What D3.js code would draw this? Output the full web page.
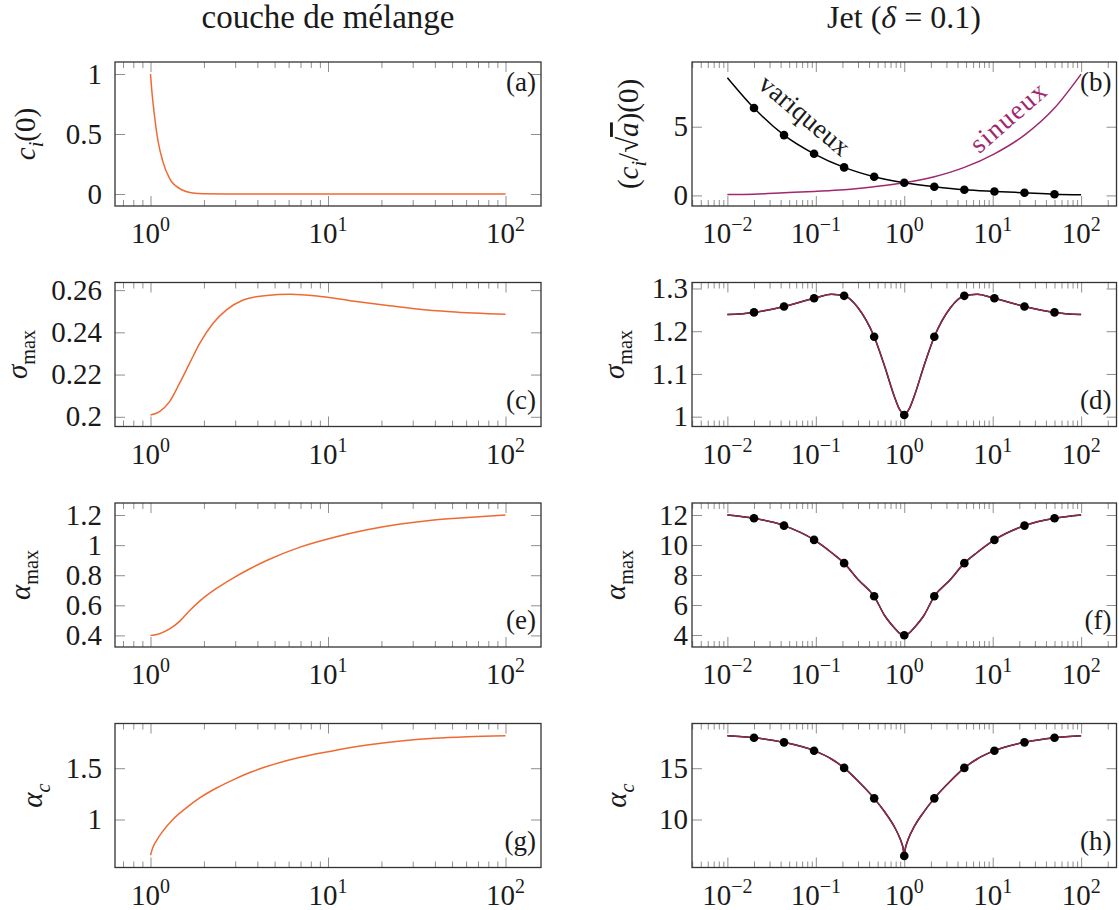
<!DOCTYPE html>
<html><head><meta charset="utf-8">
<script src="https://cdn.jsdelivr.net/npm/d3@7"></script>
<style>
body{margin:0;background:#fff}
text{font-family:"Liberation Serif","Times New Roman",serif;fill:#1a1a1a}
</style>
</head><body><svg id="c" width="1119" height="910"></svg>
<script>
// ---------- DATA ----------
// left column: couche de mélange (x from 1 to 100)
const aMixA = [1, 1.02, 1.044, 1.10, 1.174, 1.28, 1.46, 1.73, 2.0, 3.0, 10, 30, 100];
const ciMix = [1.0, 0.84, 0.70, 0.45, 0.27, 0.13, 0.045, 0.009, 0.002, 0, 0, 0, 0];

const aMixC = [1, 1.124, 1.281, 1.459, 1.662, 1.893, 2.253, 2.68, 3.33, 4.51, 6.11, 8.65, 13.35, 20.6, 31.8, 49.1, 100];
const sigmaMix = [0.2008, 0.2025, 0.2072, 0.2159, 0.2254, 0.2348, 0.2443, 0.2506, 0.2553, 0.2575, 0.2580, 0.2572, 0.2550, 0.2530, 0.2511, 0.2498, 0.2486];

const aMixE = [1, 1.124, 1.281, 1.459, 1.662, 1.893, 2.353, 2.92, 3.63, 4.51, 6.96, 10.74, 16.6, 25.6, 39.5, 61.0, 100];
const alphaMaxMix = [0.400, 0.411, 0.443, 0.493, 0.565, 0.628, 0.712, 0.781, 0.843, 0.898, 0.987, 1.051, 1.102, 1.140, 1.167, 1.184, 1.200];

const aMixG = [1, 1.031, 1.077, 1.174, 1.337, 1.591, 1.893, 2.353, 2.92, 3.63, 4.51, 6.96, 10.74, 16.6, 25.6, 39.5, 61.0, 100];
const alphaCMix = [0.652, 0.726, 0.790, 0.887, 1.000, 1.113, 1.210, 1.307, 1.387, 1.458, 1.516, 1.607, 1.671, 1.726, 1.765, 1.791, 1.806, 1.816];

// right column: Jet (delta = 0.1)
const aJetB = [0.01, 0.02, 0.0437, 0.0956, 0.209, 0.457, 1, 2.187, 4.78, 10.46, 22.87, 50, 100];
const variqueuxB = [8.57, 6.36, 4.39, 3.03, 2.04, 1.36, 0.92, 0.63, 0.41, 0.29, 0.19, 0.09, 0.05];
const sinueuxB = [0.07, 0.09, 0.19, 0.29, 0.41, 0.63, 0.92, 1.36, 2.04, 3.03, 4.39, 6.36, 8.83];

const aJet = [0.01, 0.02, 0.0437, 0.0956, 0.15, 0.209, 0.3, 0.457, 0.6, 0.78, 0.88, 1, 1.136, 1.282, 1.667, 2.187, 3.33, 4.78, 6.67, 10.46, 22.87, 50, 100];
const sigmaJet = [1.239, 1.244, 1.258, 1.277, 1.2867, 1.2828, 1.255, 1.187, 1.118, 1.045, 1.018, 1.005, 1.018, 1.045, 1.118, 1.187, 1.255, 1.2828, 1.2867, 1.277, 1.258, 1.244, 1.239];
const alphaMaxJet = [12.0, 11.78, 11.29, 10.34, 9.5, 8.79, 7.7, 6.58, 5.3, 4.45, 4.12, 3.98, 4.12, 4.45, 5.3, 6.58, 7.7, 8.79, 9.5, 10.34, 11.29, 11.78, 12.0];

const aJetH = [0.01, 0.02, 0.0437, 0.0956, 0.15, 0.209, 0.3, 0.457, 0.6, 0.77, 0.9, 0.94, 0.97, 1, 1.031, 1.064, 1.111, 1.299, 1.667, 2.187, 3.33, 4.78, 6.67, 10.46, 22.87, 50, 100];
const alphaCJet = [18.16, 17.97, 17.52, 16.71, 15.9, 15.03, 13.75, 12.06, 10.75, 9.32, 8.1, 7.64, 7.22, 6.5, 7.22, 7.64, 8.1, 9.32, 10.75, 12.06, 13.75, 15.03, 15.9, 16.71, 17.52, 17.97, 18.16];

// markers (variqueux computed points)
const aMarks = [0.02, 0.0437, 0.0956, 0.209, 0.457, 1, 2.187, 4.78, 10.46, 22.87, 50];
const marksB = [6.36, 4.39, 3.03, 2.04, 1.36, 0.92, 0.63, 0.41, 0.29, 0.19, 0.09];
const marksD = [1.244, 1.258, 1.277, 1.2828, 1.187, 1.004, 1.187, 1.2828, 1.277, 1.258, 1.244];
const marksF = [11.78, 11.29, 10.34, 8.79, 6.58, 3.98, 6.58, 8.79, 10.34, 11.29, 11.78];
const marksH = [17.97, 17.52, 16.71, 15.03, 12.06, 6.45, 12.06, 15.03, 16.71, 17.52, 17.97];

// tick labels
const xTicksMix = [1, 10, 100];
const xExpMix = ["0", "1", "2"];
const xTicksJet = [0.01, 0.1, 1, 10, 100];
const xExpJet = ["\u22122", "\u22121", "0", "1", "2"];
const yTicksA = [0, 0.5, 1], yLabA = ["0", "0.5", "1"];
const yTicksB = [0, 5], yLabB = ["0", "5"];
const yTicksC = [0.2, 0.22, 0.24, 0.26], yLabC = ["0.2", "0.22", "0.24", "0.26"];
const yTicksD = [1, 1.1, 1.2, 1.3], yLabD = ["1", "1.1", "1.2", "1.3"];
const yTicksE = [0.4, 0.6, 0.8, 1, 1.2], yLabE = ["0.4", "0.6", "0.8", "1", "1.2"];
const yTicksF = [4, 6, 8, 10, 12], yLabF = ["4", "6", "8", "10", "12"];
const yTicksG = [1, 1.5], yLabG = ["1", "1.5"];
const yTicksH = [10, 15], yLabH = ["10", "15"];

// ---------- LAYOUT ----------
const svg = d3.select("#c");
const ORANGE = "#EF6A32", PURPLE = "#A0286E", OVER = "#8F2A50";
const PH = 144;
const rowTop = [62, 282.5, 503, 723.5];
const xL = d3.scaleLog().domain([Math.pow(10, -0.2), Math.pow(10, 2.2)]).range([115, 541]);
const xR = d3.scaleLog().domain([Math.pow(10, -2.4), Math.pow(10, 2.4)]).range([692, 1116.5]);
const isPow10 = v => Math.abs(Math.log10(v) - Math.round(Math.log10(v))) < 1e-9;

function styleAxis(sel) {
  sel.select(".domain").remove();
  sel.selectAll(".tick line").attr("stroke", "#8f8f8f").attr("stroke-width", 1);
  sel.selectAll(".tick text").remove();
}

function richText(sel, parts, base) {
  parts.forEach(p => {
    const t = sel.append("tspan").text(p.t);
    if (p.it) t.attr("font-style", "italic");
    if (p.sub) t.attr("font-size", base * 0.7).attr("dy", base * 0.28);
    if (p.reset) t.attr("dy", -base * 0.28);
    if (p.over) t.style("text-decoration", "overline");
  });
}

function panel(p) {
  const x = p.col === 0 ? xL : xR;
  const top = rowTop[p.row], bot = top + PH;
  const [x0, x1] = x.range();
  const y = d3.scaleLinear().domain(p.yDomain).range([bot, top]);
  const g = svg.append("g");
  const all = x.ticks();
  const major = all.filter(isPow10), minor = all.filter(v => !isPow10(v));

  g.append("g").attr("transform", `translate(0,${bot})`).call(d3.axisBottom(x).tickValues(major).tickSize(-10).tickFormat("")).call(styleAxis);
  g.append("g").attr("transform", `translate(0,${bot})`).call(d3.axisBottom(x).tickValues(minor).tickSize(-6).tickFormat("")).call(styleAxis);
  g.append("g").attr("transform", `translate(0,${top})`).call(d3.axisTop(x).tickValues(major).tickSize(-10).tickFormat("")).call(styleAxis);
  g.append("g").attr("transform", `translate(0,${top})`).call(d3.axisTop(x).tickValues(minor).tickSize(-6).tickFormat("")).call(styleAxis);
  g.append("g").attr("transform", `translate(${x0},0)`).call(d3.axisLeft(y).tickValues(p.yTicks).tickSize(-10).tickFormat("")).call(styleAxis);
  g.append("g").attr("transform", `translate(${x1},0)`).call(d3.axisRight(y).tickValues(p.yTicks).tickSize(-10).tickFormat("")).call(styleAxis);

  g.append("rect").attr("x", x0).attr("y", top).attr("width", x1 - x0).attr("height", PH)
    .attr("fill", "none").attr("stroke", "#333").attr("stroke-width", 1.3);

  // x tick labels
  const xt = p.col === 0 ? xTicksMix : xTicksJet, xe = p.col === 0 ? xExpMix : xExpJet;
  xt.forEach((v, i) => {
    const t = g.append("text").attr("x", x(v)).attr("y", bot + 37).attr("text-anchor", "middle").attr("font-size", 29);
    t.append("tspan").text("10");
    t.append("tspan").text(xe[i]).attr("font-size", 20).attr("dy", -12);
  });
  // y tick labels
  const yEnd = p.col === 0 ? 102 : 688;
  p.yTicks.forEach((v, i) => {
    g.append("text").attr("x", yEnd).attr("y", y(v)).attr("dy", "0.33em").attr("text-anchor", "end")
      .attr("font-size", 29).text(p.yLabels[i]);
  });
  // y label
  const yl = g.append("text").attr("text-anchor", "middle").attr("font-size", 29)
    .attr("transform", `translate(${p.labX},${top + PH / 2}) rotate(-90)`);
  richText(yl, p.label, 29);

  // panel letter
  const ly = p.letterTop ? top + 29 : bot - 18;
  g.append("text").attr("x", x1 - 5).attr("y", ly).attr("text-anchor", "end").attr("font-size", 27).text(`(${p.id})`);

  const line = d3.line().x(d => x(d[0])).y(d => y(d[1])).curve(d3.curveMonotoneX);
  p.series.forEach(s => {
    g.append("path").datum(d3.zip(s.xs, s.ys)).attr("d", line).attr("fill", "none")
      .attr("stroke", s.color).attr("stroke-width", s.w || 1.5).attr("stroke-opacity", s.op || 1);
  });
  if (p.marks) {
    g.selectAll("circle.m").data(d3.zip(aMarks, p.marks)).join("circle")
      .attr("cx", d => x(d[0])).attr("cy", d => y(d[1])).attr("r", 4.3).attr("fill", "#000");
  }
  return { g, x, y };
}

// titles
svg.append("text").attr("x", 328).attr("y", 28).attr("text-anchor", "middle").attr("font-size", 33)
  .text("couche de mélange");
const jt = svg.append("text").attr("x", 904).attr("y", 28).attr("text-anchor", "middle").attr("font-size", 32);
jt.append("tspan").text("Jet (");
jt.append("tspan").text("δ").attr("font-style", "italic");
jt.append("tspan").text(" = 0.1)");

const sigmaLab = [{ t: "σ", it: true }, { t: "max", sub: true }];
const alphaMaxLab = [{ t: "α", it: true }, { t: "max", sub: true }];
const alphaCLab = [{ t: "α", it: true }, { t: "c", it: true, sub: true }];

panel({ id: "a", col: 0, row: 0, yDomain: [-0.1, 1.1], yTicks: yTicksA, yLabels: yLabA, labX: 35, letterTop: true,
  label: [{ t: "c", it: true }, { t: "i", it: true, sub: true }, { t: "(0)", reset: true }],
  series: [{ xs: aMixA, ys: ciMix, color: ORANGE }] });
panel({ id: "c", col: 0, row: 1, yDomain: [0.1954, 0.2636], yTicks: yTicksC, yLabels: yLabC, labX: 27,
  label: sigmaLab, series: [{ xs: aMixC, ys: sigmaMix, color: ORANGE }] });
panel({ id: "e", col: 0, row: 2, yDomain: [0.323, 1.28], yTicks: yTicksE, yLabels: yLabE, labX: 30,
  label: alphaMaxLab, series: [{ xs: aMixE, ys: alphaMaxMix, color: ORANGE }] });
panel({ id: "g", col: 0, row: 3, yDomain: [0.532, 1.936], yTicks: yTicksG, yLabels: yLabG, labX: 42,
  label: alphaCLab, series: [{ xs: aMixG, ys: alphaCMix, color: ORANGE }] });

const pb = panel({ id: "b", col: 1, row: 0, yDomain: [-0.77, 9.71], yTicks: yTicksB, yLabels: yLabB, labX: 638, letterTop: true,
  label: [{ t: "(" }, { t: "c", it: true }, { t: "i", it: true, sub: true }, { t: "/\u221A", reset: true }, { t: "a", it: true, over: true }, { t: ")(0)" }],
  series: [{ xs: aJetB, ys: sinueuxB, color: PURPLE }, { xs: aJetB, ys: variqueuxB, color: "#000" }],
  marks: marksB });
pb.g.append("text").attr("font-size", 27).attr("textLength", 110).attr("text-anchor", "middle")
  .attr("transform", "translate(799,122) rotate(40)").text("variqueux");
pb.g.append("text").attr("font-size", 27).attr("textLength", 92).attr("text-anchor", "middle")
  .attr("transform", "translate(1014,124) rotate(-41)").style("fill", PURPLE).text("sinueux");

panel({ id: "d", col: 1, row: 1, yDomain: [0.977, 1.314], yTicks: yTicksD, yLabels: yLabD, labX: 624,
  label: sigmaLab, series: [{ xs: aJet, ys: sigmaJet, color: "#000" }, { xs: aJet, ys: sigmaJet.slice().reverse(), color: OVER }],
  marks: marksD });
panel({ id: "f", col: 1, row: 2, yDomain: [3.2, 12.8], yTicks: yTicksF, yLabels: yLabF, labX: 625,
  label: alphaMaxLab, series: [{ xs: aJet, ys: alphaMaxJet, color: "#000" }, { xs: aJet, ys: alphaMaxJet.slice().reverse(), color: OVER }],
  marks: marksF });
panel({ id: "h", col: 1, row: 3, yDomain: [5.32, 19.36], yTicks: yTicksH, yLabels: yLabH, labX: 626,
  label: alphaCLab, series: [{ xs: aJetH, ys: alphaCJet, color: "#000" }, { xs: aJetH, ys: alphaCJet.slice().reverse(), color: OVER }],
  marks: marksH });
</script></body></html>
